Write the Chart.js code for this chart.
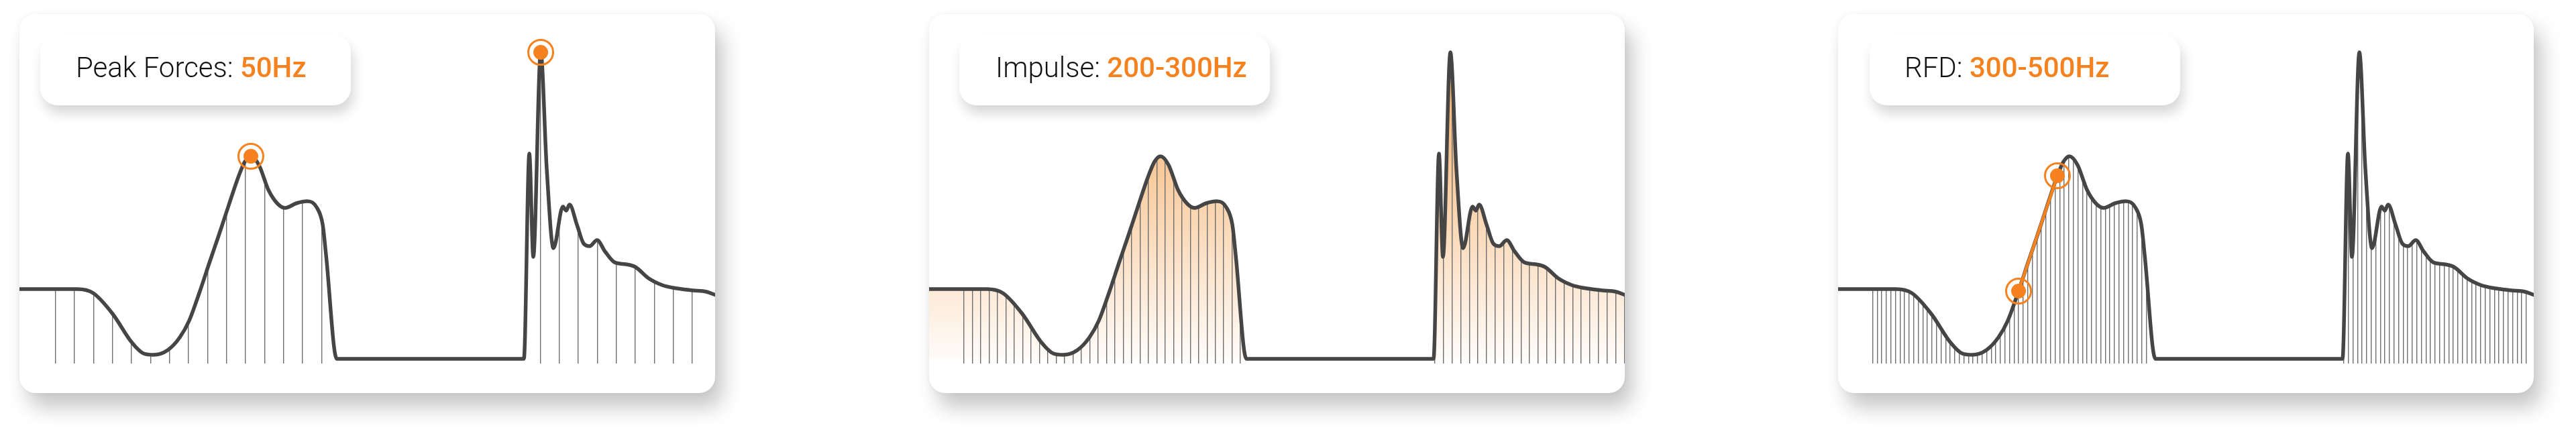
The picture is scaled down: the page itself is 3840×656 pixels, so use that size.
<!DOCTYPE html>
<html>
<head>
<meta charset="utf-8">
<script src="https://cdn.jsdelivr.net/npm/chart.js@4.4.1/dist/chart.umd.min.js"></script>
<style>
  html, body { margin:0; padding:0; background:#ffffff; width:3840px; height:656px; overflow:hidden; font-family: Roboto, "Noto Sans", sans-serif; }
  .card { position:absolute; top:21px; width:1037px; height:565px; background:#ffffff; border-radius:24px;
          box-shadow: 12px 22px 30px rgba(0,0,0,0.22), 0 0 10px rgba(0,0,0,0.05); overflow:hidden; }
  .plot { position:absolute; left:0; top:0; width:1037px; height:565px; }
  .label { position:absolute; top:31px; width:463px; height:105px; background:#ffffff; border-radius:26px;
           box-shadow: 4px 12px 18px rgba(0,0,0,0.16); }
  .label .t { position:absolute; left:53px; top:28px; font-size:42px; line-height:1; font-weight:300; color:#111111; white-space:nowrap; }
  .label .t b { font-weight:500; color:#F5821F; }
</style>
</head>
<body>
<div class="card" id="card1" style="left:29px;">
  <div class="plot"><canvas id="c1"></canvas></div>
  <div class="label" style="left:31px;"><div class="t">Peak Forces: <b>50Hz</b></div></div>
</div>
<div class="card" id="card2" style="left:1385px;">
  <div class="plot"><canvas id="c2"></canvas></div>
  <div class="label" style="left:45px;"><div class="t" style="left:54px;">Impulse: <b>200-300Hz</b></div></div>
</div>
<div class="card" id="card3" style="left:2740px;">
  <div class="plot"><canvas id="c3"></canvas></div>
  <div class="label" style="left:47px;"><div class="t" style="left:52px;">RFD: <b>300-500Hz</b></div></div>
</div>
<script>
// ---- data (time in ms, vertical ground reaction force in N) ----
const timeMs = [0,35.3,60.7,77.6,98.1,117.9,130.6,141.2,156.0,168.7,
                178.6,189.9,199.8,210.4,220.2,230.8,237.2,243.5,252.0,261.9,
                271.8,279.5,291.5,302.8,312.7,319.1,322.6,333.9,530.8,536.5,
                540.7,548.5,554.8,561.9,571.8,575.3,578.8,586.6,593.6,600.0,
                607.8,616.2,626.1,638.1,648.0,662.1,676.2,687.5,708.7,722.8,732.7];
const forceN = [832,832,832,784,536,200,64,48,104,256,
                456,808,1144,1496,1832,2184,2352,2416,2312,2016,
                1848,1800,1856,1880,1808,1600,1240,0,0,2448,
                1216,3656,2272,1320,1816,1768,1840,1600,1376,1344,
                1416,1280,1152,1128,1096,960,880,848,816,800,760];
// highlighted samples (indices into the series)
const peakIdx = [17, 31];
const rfdIdx = [11, 15];
// sampling instants shown as drop lines (ms): start, end, period
const samples50Hz  = [{from:37.8, to:318, step:20},   {from:548,   to:709, step:20}];
const samples200Hz = [{from:36.6, to:328, step:8.82}, {from:532.2, to:732, step:9.06}];
const samples300Hz = [{from:36.3, to:328, step:4.8},  {from:532.2, to:728, step:4.8}];
const xRange = [0, 732];
const yRange = [-56, 4112];

const ORANGE = '#F5821F';
const LINE = '#454545';

const pts = timeMs.map((t, i) => ({x: t, y: forceN[i]}));
const pick = idx => idx.map(i => ({x: timeMs[i], y: forceN[i]}));

const underFill = {
  id: 'underFill',
  beforeDraw(chart, args, opts) {
    if (!opts || !opts.enabled) return;
    const meta = chart.getDatasetMeta(opts.datasetIndex);
    const line = meta.dataset;
    const p = meta.data;
    if (!line || !p.length) return;
    const {ctx, chartArea} = chart;
    line.updateControlPoints(chartArea, 'x');
    const base = chart.scales.y.getPixelForValue(0);
    const g = ctx.createLinearGradient(0, chartArea.top, 0, chartArea.bottom);
    g.addColorStop(0, 'rgba(240,138,36,0.80)');
    g.addColorStop(1, 'rgba(240,138,36,0.02)');
    ctx.save();
    ctx.beginPath();
    ctx.rect(chartArea.left, chartArea.top, chartArea.width, chartArea.height);
    ctx.clip();
    ctx.beginPath();
    line.path(ctx);
    ctx.lineTo(p[p.length - 1].x, base);
    ctx.lineTo(p[0].x, base);
    ctx.closePath();
    ctx.fillStyle = g;
    ctx.fill();
    ctx.restore();
  }
};

function makeChart(id, samples, opts) {
  const ds = [];
  if (opts.markers) {
    ds.push({label:'ring', data: pick(opts.markers), showLine:false, pointRadius:18.5, pointHoverRadius:18.5,
             pointBackgroundColor:'rgba(0,0,0,0)', pointBorderColor:ORANGE, pointBorderWidth:3, clip:false});
    ds.push({label:'dot', data: pick(opts.markers), showLine:false, pointRadius:11, pointHoverRadius:11,
             pointBackgroundColor:ORANGE, pointBorderWidth:0, clip:false});
  }
  if (opts.segment) {
    ds.push({label:'rfd', data: pick(opts.markers), showLine:true, borderColor:ORANGE, borderWidth:4.5,
             pointRadius:0, fill:false, tension:0});
  }
  const curveIndex = ds.length;
  ds.push({label:'force', data: pts, borderColor: LINE, borderWidth:5.5, pointRadius:0, fill:false,
           cubicInterpolationMode:'monotone', borderJoinStyle:'round', borderCapStyle:'round'});
  ds.push({label:'mask', data: pts, borderWidth:0, pointRadius:0, fill:'end', backgroundColor:'#ffffff',
           cubicInterpolationMode:'monotone'});

  return new Chart(document.getElementById(id), {
    type: 'line',
    data: { datasets: ds },
    options: {
      responsive: true,
      maintainAspectRatio: false,
      animation: false,
      events: [],
      layout: { autoPadding: false, padding: { left:0, right:0, top:0, bottom:44 } },
      plugins: {
        legend: { display:false },
        tooltip: { enabled:false },
        underFill: { enabled: !!opts.fill, datasetIndex: curveIndex }
      },
      scales: {
        x: {
          type: 'linear', min: xRange[0], max: xRange[1],
          border: { display:false },
          ticks: { display:false },
          grid: { color:'#6e6e6e', lineWidth:1.4, drawTicks:false },
          afterBuildTicks: axis => {
            const t = [];
            samples.forEach(s => { for (let v = s.from; v <= s.to + 1e-6; v += s.step) t.push({value: v}); });
            axis.ticks = t;
          }
        },
        y: { type:'linear', display:false, min: yRange[0], max: yRange[1] }
      }
    },
    plugins: [underFill]
  });
}

makeChart('c1', samples50Hz,  { markers: peakIdx });
makeChart('c2', samples200Hz, { fill: true });
makeChart('c3', samples300Hz, { markers: rfdIdx, segment: true });
</script>
</body>
</html>
